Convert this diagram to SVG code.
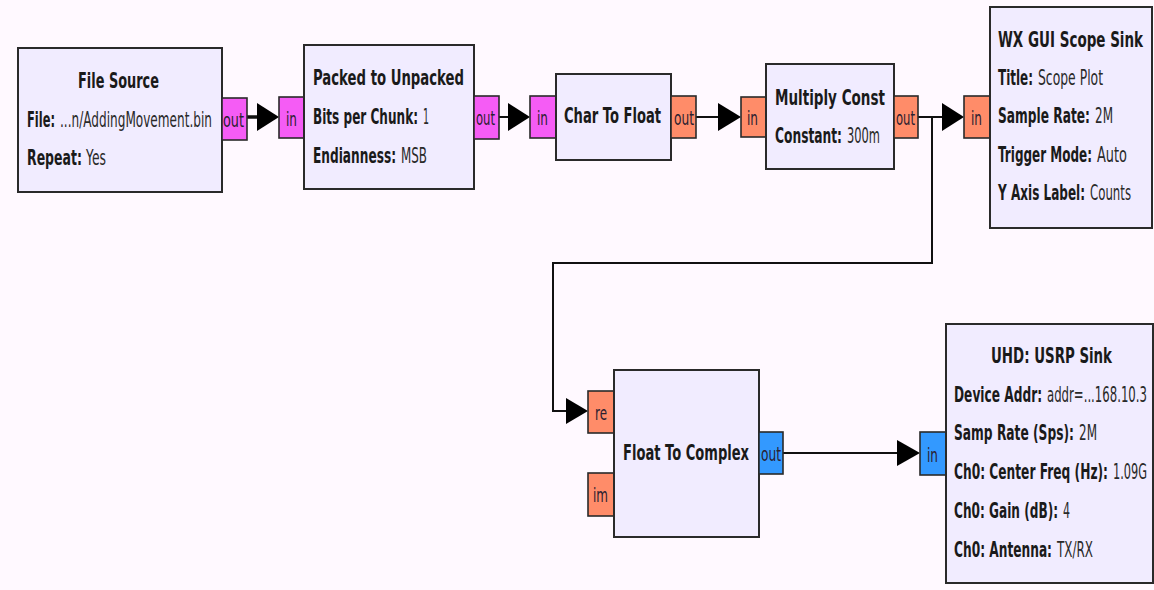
<svg xmlns="http://www.w3.org/2000/svg" width="1154" height="590" viewBox="0 0 1154 590">
<style>
.blk{fill:#F1ECFF;stroke:#2a2a2a;stroke-width:2}
.port{stroke:#2a2a2a;stroke-width:1.6}
.pb{fill:#F55CF5}
.pf{fill:#FF8C69}
.pc{fill:#3399FF}
text{font-family:"DejaVu Sans","Liberation Sans",sans-serif;fill:#1a1a1a}
.t{font-size:22px;font-weight:bold}
.k{font-size:21px;font-weight:bold}
.v{font-size:21px;font-weight:normal;fill:#2a2a2a}
.p{font-size:20px;font-weight:normal;fill:#2a2030}
.wire{fill:none;stroke:#111;stroke-width:2}
.head{fill:#000}
</style>
<rect width="1154" height="590" fill="#FFF9FF"/>
<g id="connectors">
<path class="wire" d="M247 117 H259" style="stroke-width:3.5"/>
<polygon class="head" points="257,103 279,117 257,131"/>
<path class="wire" d="M499 117 H510"/>
<polygon class="head" points="508,103 530,117 508,131"/>
<path class="wire" d="M696 117 H720"/>
<polygon class="head" points="718,103 741,117 718,131"/>
<path class="wire" d="M918 117 H944"/>
<polygon class="head" points="942,103 964,117 942,131"/>
<path class="wire" d="M932 117 V263 H553 V411 H568"/>
<polygon class="head" points="566,398 588,411 566,424"/>
<path class="wire" d="M783 453 H899"/>
<polygon class="head" points="897,440 920,453 897,466"/>
</g>
<g id="file_source">
<rect class="blk" x="18" y="48" width="204" height="144"/>
<text class="t" transform="matrix(0.59 0 0 1 78 88)" textLength="137.3" lengthAdjust="spacingAndGlyphs">File Source</text>
<text class="k" transform="matrix(0.59 0 0 1 27 127)" textLength="47.5" lengthAdjust="spacingAndGlyphs">File:</text>
<text class="v" transform="matrix(0.59 0 0 1 60 127)" textLength="257.6" lengthAdjust="spacingAndGlyphs">...n/AddingMovement.bin</text>
<text class="k" transform="matrix(0.59 0 0 1 27 165)" textLength="93.2" lengthAdjust="spacingAndGlyphs">Repeat:</text>
<text class="v" transform="matrix(0.59 0 0 1 86 165)" textLength="33.9" lengthAdjust="spacingAndGlyphs">Yes</text>
<rect class="port pb" x="222" y="98" width="25" height="42"/>
<text class="p" transform="matrix(0.59 0 0 1 223 127)" textLength="35.6" lengthAdjust="spacingAndGlyphs">out</text>
</g>
<g id="packed_to_unpacked">
<rect class="port pb" x="279" y="97" width="25" height="41"/>
<text class="p" transform="matrix(0.59 0 0 1 286 126)" textLength="18.6" lengthAdjust="spacingAndGlyphs">in</text>
<rect class="blk" x="304" y="45" width="170" height="144"/>
<text class="t" transform="matrix(0.59 0 0 1 313 85)" textLength="255.9" lengthAdjust="spacingAndGlyphs">Packed to Unpacked</text>
<text class="k" transform="matrix(0.59 0 0 1 313 124)" textLength="178" lengthAdjust="spacingAndGlyphs">Bits per Chunk:</text>
<text class="v" transform="matrix(0.59 0 0 1 423 124)" textLength="10.2" lengthAdjust="spacingAndGlyphs">1</text>
<text class="k" transform="matrix(0.59 0 0 1 313 163)" textLength="140.7" lengthAdjust="spacingAndGlyphs">Endianness:</text>
<text class="v" transform="matrix(0.59 0 0 1 401 163)" textLength="44.1" lengthAdjust="spacingAndGlyphs">MSB</text>
<rect class="port pb" x="474" y="96" width="25" height="43"/>
<text class="p" transform="matrix(0.59 0 0 1 476 125)" textLength="32.2" lengthAdjust="spacingAndGlyphs">out</text>
</g>
<g id="char_to_float">
<rect class="port pb" x="530" y="96" width="26" height="42"/>
<text class="p" transform="matrix(0.59 0 0 1 537 125)" textLength="18.6" lengthAdjust="spacingAndGlyphs">in</text>
<rect class="blk" x="556" y="74" width="115" height="86"/>
<text class="t" transform="matrix(0.59 0 0 1 564 123)" textLength="164.4" lengthAdjust="spacingAndGlyphs">Char To Float</text>
<rect class="port pf" x="671" y="96" width="25" height="42"/>
<text class="p" transform="matrix(0.59 0 0 1 674 125)" textLength="33.9" lengthAdjust="spacingAndGlyphs">out</text>
</g>
<g id="multiply_const">
<rect class="port pf" x="741" y="97" width="25" height="40"/>
<text class="p" transform="matrix(0.59 0 0 1 747 125)" textLength="18.6" lengthAdjust="spacingAndGlyphs">in</text>
<rect class="blk" x="766" y="64" width="128" height="105"/>
<text class="t" transform="matrix(0.59 0 0 1 775 105)" textLength="186.4" lengthAdjust="spacingAndGlyphs">Multiply Const</text>
<text class="k" transform="matrix(0.59 0 0 1 775 143)" textLength="113.6" lengthAdjust="spacingAndGlyphs">Constant:</text>
<text class="v" transform="matrix(0.59 0 0 1 847 143)" textLength="55.9" lengthAdjust="spacingAndGlyphs">300m</text>
<rect class="port pf" x="894" y="96" width="24" height="42"/>
<text class="p" transform="matrix(0.59 0 0 1 896 125)" textLength="32.2" lengthAdjust="spacingAndGlyphs">out</text>
</g>
<g id="wx_gui_scope_sink">
<rect class="port pf" x="964" y="96" width="26" height="42"/>
<text class="p" transform="matrix(0.59 0 0 1 971 125)" textLength="18.6" lengthAdjust="spacingAndGlyphs">in</text>
<rect class="blk" x="990" y="7" width="162" height="221"/>
<text class="t" transform="matrix(0.59 0 0 1 998 47)" textLength="245.8" lengthAdjust="spacingAndGlyphs">WX GUI Scope Sink</text>
<text class="k" transform="matrix(0.59 0 0 1 998 85)" textLength="59.3" lengthAdjust="spacingAndGlyphs">Title:</text>
<text class="v" transform="matrix(0.59 0 0 1 1038 85)" textLength="110.2" lengthAdjust="spacingAndGlyphs">Scope Plot</text>
<text class="k" transform="matrix(0.59 0 0 1 998 123)" textLength="155.9" lengthAdjust="spacingAndGlyphs">Sample Rate:</text>
<text class="v" transform="matrix(0.59 0 0 1 1095 123)" textLength="30.5" lengthAdjust="spacingAndGlyphs">2M</text>
<text class="k" transform="matrix(0.59 0 0 1 998 162)" textLength="159.3" lengthAdjust="spacingAndGlyphs">Trigger Mode:</text>
<text class="v" transform="matrix(0.59 0 0 1 1097 162)" textLength="50.8" lengthAdjust="spacingAndGlyphs">Auto</text>
<text class="k" transform="matrix(0.59 0 0 1 998 200)" textLength="147.5" lengthAdjust="spacingAndGlyphs">Y Axis Label:</text>
<text class="v" transform="matrix(0.59 0 0 1 1090 200)" textLength="69.5" lengthAdjust="spacingAndGlyphs">Counts</text>
</g>
<g id="float_to_complex">
<rect class="port pf" x="588" y="391" width="26" height="42"/>
<text class="p" transform="matrix(0.59 0 0 1 595 420)" textLength="20.3" lengthAdjust="spacingAndGlyphs">re</text>
<rect class="port pf" x="588" y="473" width="26" height="43"/>
<text class="p" transform="matrix(0.59 0 0 1 593 502)" textLength="25.4" lengthAdjust="spacingAndGlyphs">im</text>
<rect class="blk" x="614" y="370" width="145" height="167"/>
<text class="t" transform="matrix(0.59 0 0 1 623 460)" textLength="213.6" lengthAdjust="spacingAndGlyphs">Float To Complex</text>
<rect class="port pc" x="759" y="432" width="24" height="42"/>
<text class="p" transform="matrix(0.59 0 0 1 761 461)" textLength="33.9" lengthAdjust="spacingAndGlyphs">out</text>
</g>
<g id="uhd_usrp_sink">
<rect class="port pc" x="920" y="432" width="26" height="43"/>
<text class="p" transform="matrix(0.59 0 0 1 927 462)" textLength="18.6" lengthAdjust="spacingAndGlyphs">in</text>
<rect class="blk" x="946" y="324" width="207" height="259"/>
<text class="t" transform="matrix(0.59 0 0 1 991 363)" textLength="205.1" lengthAdjust="spacingAndGlyphs">UHD: USRP Sink</text>
<text class="k" transform="matrix(0.59 0 0 1 954 402)" textLength="149.2" lengthAdjust="spacingAndGlyphs">Device Addr:</text>
<text class="v" transform="matrix(0.59 0 0 1 1047 402)" textLength="169.5" lengthAdjust="spacingAndGlyphs">addr=...168.10.3</text>
<text class="k" transform="matrix(0.59 0 0 1 954 440)" textLength="203.4" lengthAdjust="spacingAndGlyphs">Samp Rate (Sps):</text>
<text class="v" transform="matrix(0.59 0 0 1 1079 440)" textLength="30.5" lengthAdjust="spacingAndGlyphs">2M</text>
<text class="k" transform="matrix(0.59 0 0 1 954 479)" textLength="261" lengthAdjust="spacingAndGlyphs">Ch0: Center Freq (Hz):</text>
<text class="v" transform="matrix(0.59 0 0 1 1113 479)" textLength="57.6" lengthAdjust="spacingAndGlyphs">1.09G</text>
<text class="k" transform="matrix(0.59 0 0 1 954 518)" textLength="176.3" lengthAdjust="spacingAndGlyphs">Ch0: Gain (dB):</text>
<text class="v" transform="matrix(0.59 0 0 1 1063 518)" textLength="11.9" lengthAdjust="spacingAndGlyphs">4</text>
<text class="k" transform="matrix(0.59 0 0 1 954 557)" textLength="166.1" lengthAdjust="spacingAndGlyphs">Ch0: Antenna:</text>
<text class="v" transform="matrix(0.59 0 0 1 1057 557)" textLength="61" lengthAdjust="spacingAndGlyphs">TX/RX</text>
</g>
</svg>
